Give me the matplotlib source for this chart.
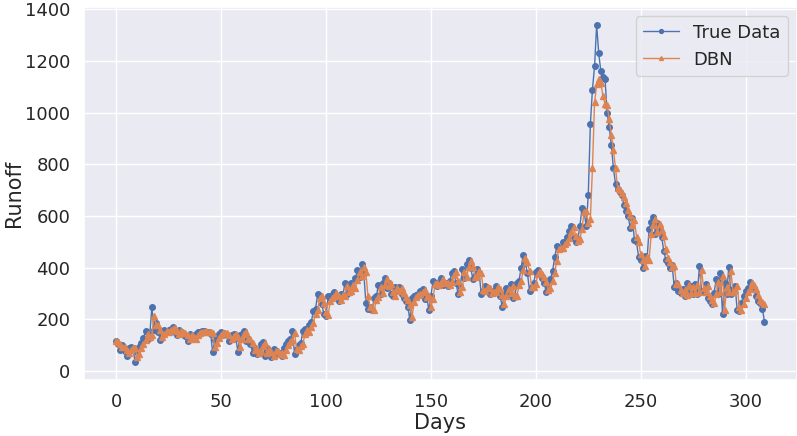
import matplotlib
matplotlib.use("Agg")
import matplotlib.pyplot as plt
import seaborn as sns

sns.set_theme(style="darkgrid")

# observed runoff per day
true_data = [
    116, 104, 82, 100, 77, 60, 88, 92, 90, 35,
    75, 95, 110, 130, 155, 125, 140, 248, 160, 185,
    150, 120, 145, 158, 150, 160, 165, 170, 150, 140,
    160, 150, 145, 135, 118, 145, 130, 124, 145, 150,
    150, 155, 155, 150, 150, 145, 73, 120, 130, 145,
    150, 148, 145, 140, 117, 140, 145, 130, 75, 140,
    145, 156, 116, 125, 104, 72, 90, 66, 80, 104,
    111, 60, 88, 70, 53, 85, 79, 65, 70, 60,
    90, 104, 115, 124, 156, 66, 85, 100, 110, 156,
    162, 150, 180, 192, 233, 240, 298, 291, 260, 220,
    215, 290, 285, 295, 305, 290, 270, 300, 290, 340,
    300, 310, 340, 320, 360, 390, 365, 413, 380, 265,
    240, 250, 236, 285, 290, 335, 300, 340, 362, 320,
    343, 300, 290, 327, 310, 325, 300, 285, 272, 250,
    197, 285, 290, 295, 300, 310, 317, 280, 290, 236,
    291, 349, 340, 330, 345, 362, 335, 343, 330, 350,
    381, 388, 340, 298, 330, 394, 360, 414, 431, 400,
    356, 370, 394, 380, 298, 310, 330, 320, 300, 310,
    304, 330, 317, 290, 250, 300, 323, 300, 336, 285,
    290, 343, 350, 400, 449, 420, 380, 311, 325, 340,
    385, 390, 375, 362, 340, 306, 320, 358, 388, 440,
    485, 478, 478, 498, 498, 520, 543, 562, 517, 500,
    510, 560, 630, 620, 560, 680, 955, 1090, 1180, 1340,
    1230, 1160, 1140, 1130, 1000, 945, 875, 785, 725, 705,
    695, 680, 645, 620, 600, 555, 594, 508, 498, 443,
    430, 401, 446, 430, 549, 577, 597, 530, 575, 545,
    520, 465, 430, 420, 400, 410, 324, 340, 310, 302,
    317, 290, 343, 300, 330, 300, 336, 300, 407, 310,
    307, 336, 285, 272, 260, 304, 356, 300, 381, 220,
    343, 300, 404, 298, 317, 330, 236, 233, 265, 290,
    310, 320, 347, 330, 317, 291, 270, 265, 242, 191,
]

# DBN prediction per day
dbn = [
    115, 112, 106, 92, 93, 83, 70, 80, 90, 90,
    55, 65, 88, 105, 122, 145, 132, 138, 215, 180,
    178, 158, 132, 142, 155, 152, 158, 163, 168, 155,
    145, 155, 152, 146, 138, 124, 140, 133, 126, 140,
    148, 150, 153, 155, 151, 150, 146, 95, 110, 127,
    140, 148, 148, 146, 141, 124, 136, 143, 133, 92,
    125, 142, 152, 125, 123, 108, 80, 86, 72, 78,
    98, 108, 72, 84, 73, 58, 78, 79, 68, 69,
    62, 83, 100, 112, 122, 147, 85, 82, 96, 107,
    142, 158, 152, 172, 188, 222, 237, 283, 290, 265,
    228, 216, 270, 283, 292, 302, 292, 275, 295, 290,
    328, 305, 310, 333, 322, 352, 382, 368, 402, 382,
    290, 248, 248, 238, 274, 288, 325, 303, 332, 355,
    328, 338, 305, 292, 320, 312, 322, 303, 288, 275,
    255, 210, 268, 287, 293, 298, 307, 314, 287, 289,
    248, 280, 337, 340, 332, 342, 358, 340, 342, 332,
    346, 374, 385, 350, 308, 325, 382, 365, 403, 425,
    405, 365, 367, 388, 381, 315, 310, 327, 321, 303,
    308, 305, 325, 317, 295, 258, 292, 318, 303, 330,
    292, 290, 332, 348, 390, 438, 422, 388, 325, 325,
    337, 375, 388, 377, 364, 345, 313, 320, 350, 380,
    428, 474, 478, 478, 494, 498, 516, 540, 558, 525,
    503, 510, 550, 615, 618, 572, 590, 785, 1040, 1110,
    1130, 1116, 1065, 1035, 1030, 975, 916, 856, 785, 710,
    700, 690, 675, 650, 625, 603, 565, 585, 520, 500,
    452, 432, 407, 440, 430, 530, 565, 590, 538, 568,
    547, 522, 473, 437, 422, 403, 408, 337, 338, 314,
    304, 315, 294, 335, 304, 326, 303, 332, 305, 390,
    322, 308, 331, 290, 275, 262, 297, 347, 308, 368,
    238, 326, 305, 388, 305, 315, 328, 250, 236, 260,
    285, 306, 318, 342, 332, 319, 295, 274, 266, 258,
]

days = list(range(len(true_data)))

fig = plt.figure(figsize=(7.97, 4.36), dpi=100)
ax = fig.add_axes([0.105, 0.128, 0.895, 0.855])

ax.plot(days, true_data, color="#4C72B0", marker="o", markersize=4,
        linewidth=1, label="True Data")
ax.plot(days, dbn, color="#DD8452", marker="^", markersize=4,
        linewidth=1, label="DBN")

ax.set_ylim(-35, 1408)
ax.set_xlim(-15.5, 324.5)
ax.set_xlabel("Days", fontsize=15, labelpad=1)
ax.set_ylabel("Runoff", fontsize=15, labelpad=1)
ax.tick_params(labelsize=13)
ax.legend(fontsize=13, loc="upper right", markerscale=0.7)

fig.savefig("out.png", dpi=100)
